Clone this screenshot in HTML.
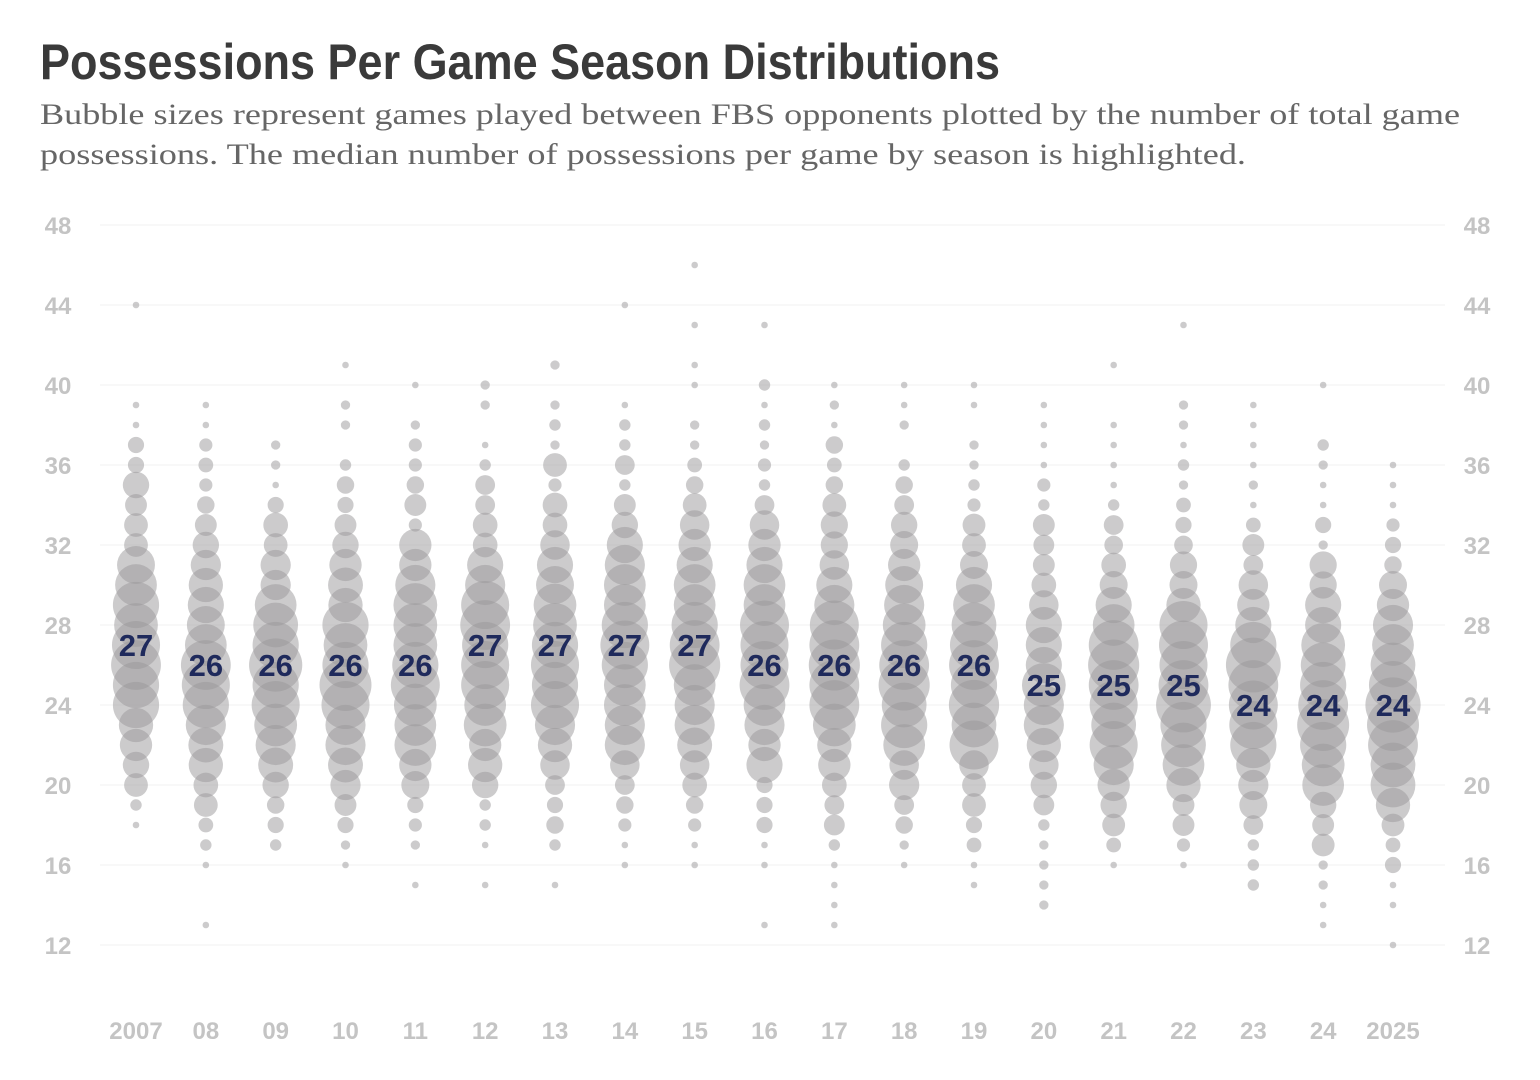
<!DOCTYPE html>
<html><head><meta charset="utf-8"><style>
html,body{margin:0;padding:0;background:#fff;}
svg{display:block;}
</style></head><body>
<svg id="chart" width="1540" height="1080" viewBox="0 0 1540 1080" xmlns="http://www.w3.org/2000/svg">
<text x="40" y="79" font-family="'Liberation Sans Narrow','Liberation Sans',sans-serif" font-size="50" font-weight="bold" fill="#3a3a3a" textLength="960" lengthAdjust="spacingAndGlyphs">Possessions Per Game Season Distributions</text>
<text x="40" y="124" font-family="'Liberation Serif',serif" font-size="30" fill="#666" textLength="1420" lengthAdjust="spacingAndGlyphs">Bubble sizes represent games played between FBS opponents plotted by the number of total game</text>
<text x="40" y="164" font-family="'Liberation Serif',serif" font-size="30" fill="#666" textLength="1206" lengthAdjust="spacingAndGlyphs">possessions. The median number of possessions per game by season is highlighted.</text>
<g id="grid"></g><g id="bubbles"></g><g id="labels"></g>
</svg>
<script>
const seasons=["2007","08","09","10","11","12","13","14","15","16","17","18","19","20","21","22","23","24","2025"];
const medians=[27,26,26,26,26,27,27,27,27,26,26,26,26,25,25,25,24,24,24];
const yTicks=[12,16,20,24,28,32,36,40,44,48];
const g2007={44:1,39:1,38:1,37:6,36:6,35:16,34:11,33:13,32:13,31:33,30:40,29:49,28:44,27:53,26:57,25:49,24:49,23:27,22:24,21:16,20:13,19:3,18:1};
const g2008={39:1,38:1,37:4,36:5,35:4,34:7,33:11,32:16,31:21,30:27,29:30,28:33,27:40,26:57,25:53,24:49,23:37,22:28,21:27,20:14,19:13,18:5,17:3,16:1,13:1};
const g2009={37:2,36:2,35:1,34:6,33:14,32:13,31:21,30:21,29:40,28:46,27:49,26:65,25:49,24:53,23:42,22:37,21:28,20:16,19:7,18:6,17:3};
const g2010={41:1,39:2,38:2,36:3,35:7,34:6,33:11,32:16,31:24,30:28,29:27,28:49,27:44,26:49,25:62,24:53,23:37,22:37,21:28,20:21,19:11,18:6,17:2,16:1};
const g2011={40:1,38:2,37:4,36:4,35:7,34:11,33:4,32:24,31:24,30:37,29:44,28:44,27:44,26:49,25:55,24:42,23:40,22:40,21:24,20:18,19:6,18:4,17:2,15:1};
const g2012={40:2,39:2,37:1,36:3,35:9,34:9,33:14,32:14,31:30,30:37,29:53,28:57,27:49,26:53,25:53,24:40,23:42,22:24,21:27,20:16,19:3,18:3,17:1,15:1};
const g2013={41:2,39:2,38:3,37:2,36:13,35:4,34:14,33:14,32:20,31:30,30:33,29:42,28:44,27:49,26:53,25:49,24:53,23:37,22:27,21:20,20:9,19:6,18:7,17:3,15:1};
const g2014={44:1,39:1,38:3,37:3,36:9,35:3,34:11,33:16,32:30,31:37,30:40,29:40,28:49,27:55,26:49,25:40,24:40,23:37,22:37,21:20,20:9,19:7,18:4,17:1,16:1};
const g2015={46:1,43:1,41:1,40:1,38:2,37:2,36:5,35:7,34:13,33:20,32:24,31:30,30:40,29:40,28:49,27:57,26:60,25:40,24:37,23:37,22:28,21:20,20:14,19:7,18:4,17:1,16:1};
const g2016={43:1,40:3,39:1,38:3,37:2,36:4,35:3,34:9,33:20,32:24,31:30,30:40,29:40,28:55,27:53,26:53,25:57,24:40,23:37,22:24,21:30,20:6,19:6,18:6,17:1,16:1,13:1};
const g2017={40:1,39:2,38:1,37:7,36:5,35:7,34:13,33:17,32:17,31:20,30:30,29:37,28:55,27:57,26:60,25:57,24:57,23:42,22:27,21:24,20:14,19:9,18:10,17:3,16:1,15:1,14:1,13:1};
const g2018={40:1,39:1,38:2,36:3,35:7,34:9,33:16,32:18,31:24,30:33,29:37,28:42,27:49,26:57,25:60,24:46,23:49,22:40,21:20,20:21,19:9,18:7,17:2,16:1};
const g2019={40:1,39:1,37:2,36:2,35:3,34:4,33:12,32:13,31:18,30:30,29:40,28:46,27:53,26:57,25:49,24:58,23:46,22:55,21:20,20:13,19:13,18:6,17:5,16:1,15:1};
const g2020={39:1,38:1,37:1,36:1,35:4,34:3,33:11,32:10,31:11,30:14,29:20,28:30,27:30,26:30,25:44,24:37,23:37,22:27,21:20,20:16,19:10,18:3,17:2,16:2,15:2,14:2};
const g2021={41:1,38:1,37:1,36:1,35:1,34:3,33:9,32:8,31:14,30:18,29:30,28:40,27:57,26:60,25:57,24:53,23:46,22:53,21:37,20:24,19:16,18:12,17:5,16:1};
const g2022={43:1,39:2,38:2,37:1,36:3,35:2,34:5,33:6,32:8,31:17,30:18,29:27,28:53,27:55,26:53,25:57,24:69,23:49,22:46,21:40,20:27,19:11,18:11,17:4,16:1};
const g2023={39:1,38:1,37:1,36:1,35:2,34:1,33:5,32:11,31:9,30:20,29:24,28:30,27:49,26:69,25:57,24:55,23:53,22:49,21:27,20:21,19:18,18:9,17:3,16:3,15:3};
const g2024={40:1,37:3,36:2,35:1,34:1,33:6,32:2,31:17,30:17,29:30,28:30,27:44,26:46,25:49,24:57,23:62,22:49,21:42,20:40,19:16,18:11,17:12,16:2,15:2,14:1,13:1};
const g2025={36:1,35:1,34:1,33:4,32:6,31:7,30:18,29:24,28:37,27:40,26:46,25:53,24:70,23:62,22:57,21:46,20:46,19:27,18:12,17:5,16:6,15:1,14:1,12:1};
const games=[g2007,g2008,g2009,g2010,g2011,g2012,g2013,g2014,g2015,g2016,g2017,g2018,g2019,g2020,g2021,g2022,g2023,g2024,g2025];

const NS="http://www.w3.org/2000/svg";
const xScale=i=>136+i*(1393-136)/(seasons.length-1);
const yScale=v=>945-(v-12)*20;
const rScale=n=>3.3*Math.sqrt(n);
function mk(tag,attrs,parent){const e=document.createElementNS(NS,tag);for(const k in attrs)e.setAttribute(k,attrs[k]);parent.appendChild(e);return e;}
const grid=document.getElementById('grid'),bub=document.getElementById('bubbles'),lab=document.getElementById('labels');
yTicks.forEach(t=>{
  const l=mk('line',{x1:100,x2:1445,y1:yScale(t),y2:yScale(t),stroke:'#f2f2f2','stroke-width':1},grid);
  
  
  const a=mk('text',{x:58,y:yScale(t)+9,'text-anchor':'middle','font-family':"'Liberation Sans',sans-serif",'font-size':24,'font-weight':'bold',fill:'#c4c4c4'},grid);
  a.textContent=t;
  
  
  const b=mk('text',{x:1477,y:yScale(t)+9,'text-anchor':'middle','font-family':"'Liberation Sans',sans-serif",'font-size':24,'font-weight':'bold',fill:'#c4c4c4'},grid);
  b.textContent=t;
  
  
});
seasons.forEach((s,i)=>{
  const x=xScale(i);
  const gm=games[i];
  Object.keys(gm).forEach(k=>{
    const c=mk('circle',{cx:x,cy:yScale(+k),r:rScale(gm[k]),fill:'#9a989a','fill-opacity':0.5},bub);
    
    
  });
  const t=mk('text',{x:x,y:1039,'text-anchor':'middle','font-family':"'Liberation Sans',sans-serif",'font-size':24,'font-weight':'bold',fill:'#c4c4c4'},lab);
  t.textContent=s;
  
  
  const m=mk('text',{x:x,y:yScale(medians[i])+11,'text-anchor':'middle','font-family':"'Liberation Sans',sans-serif",'font-size':31,'font-weight':'bold',fill:'#1f2a5c'},lab);
  m.textContent=medians[i];
  
  
});
</script>
</body></html>
